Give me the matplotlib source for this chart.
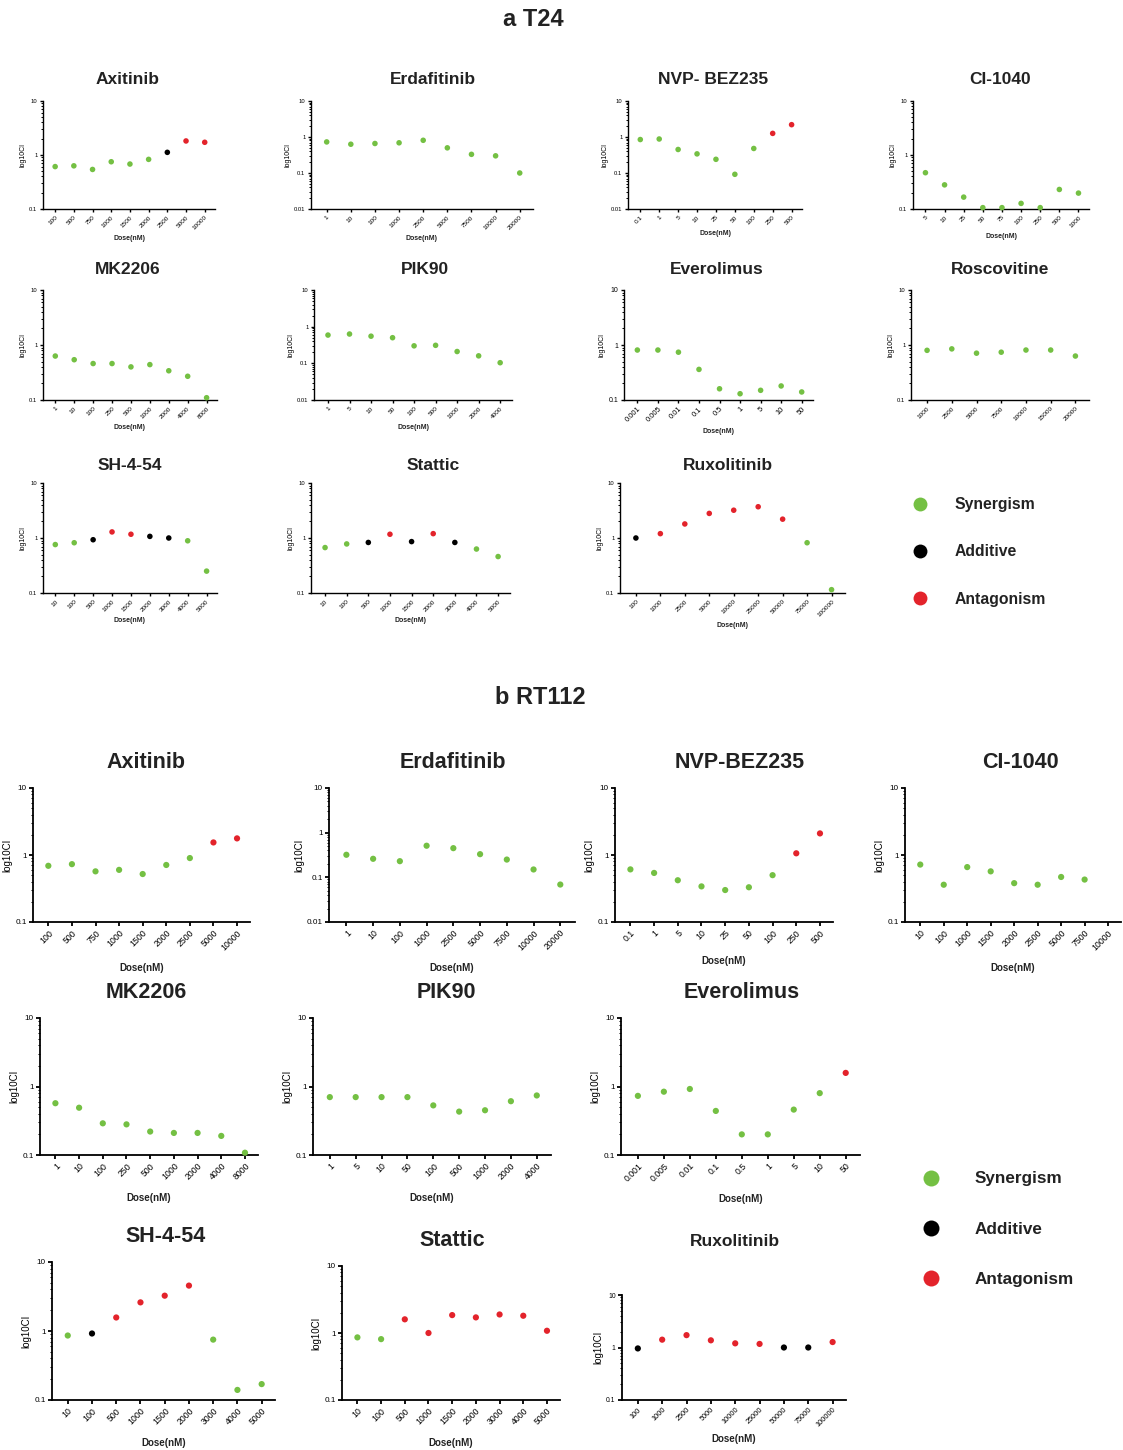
import numpy as np
import matplotlib
matplotlib.use('Agg')
import matplotlib.pyplot as plt
from matplotlib.ticker import FixedLocator, LogLocator, NullFormatter
from matplotlib.lines import Line2D

plt.rcParams['font.family'] = ['Liberation Sans', 'DejaVu Sans']

W, H = 1123, 1450
GREEN = '#74c043'
RED = '#e3232b'
BLACK = '#000000'
EFFECT_COLOR = {'S': GREEN, 'A': BLACK, 'N': RED}

# ---------------- T24 ----------------
t24_axitinib_dose = ['100', '500', '750', '1000', '1500', '2000', '2500', '5000', '10000']
t24_axitinib_ci = [0.61, 0.63, 0.54, 0.75, 0.68, 0.83, 1.12, 1.82, 1.72]
t24_axitinib_eff = 'SSSSSSANN'

t24_erdafitinib_dose = ['1', '10', '100', '1000', '2500', '5000', '7500', '10000', '20000']
t24_erdafitinib_ci = [0.73, 0.63, 0.66, 0.69, 0.81, 0.50, 0.33, 0.30, 0.10]
t24_erdafitinib_eff = 'SSSSSSSSS'

t24_bez235_dose = ['0.1', '1', '5', '10', '25', '50', '100', '250', '500']
t24_bez235_ci = [0.85, 0.88, 0.45, 0.34, 0.24, 0.092, 0.48, 1.26, 2.2]
t24_bez235_eff = 'SSSSSSSNN'

t24_ci1040_dose = ['5', '10', '25', '50', '75', '100', '250', '500', '1000']
t24_ci1040_ci = [0.47, 0.28, 0.166, 0.106, 0.106, 0.127, 0.106, 0.23, 0.197]
t24_ci1040_eff = 'SSSSSSSSS'

t24_mk2206_dose = ['1', '10', '100', '250', '500', '1000', '2000', '4000', '8000']
t24_mk2206_ci = [0.63, 0.54, 0.46, 0.46, 0.40, 0.44, 0.34, 0.27, 0.11]
t24_mk2206_eff = 'SSSSSSSSS'

t24_pik90_dose = ['1', '5', '10', '50', '100', '500', '1000', '2000', '4000']
t24_pik90_ci = [0.59, 0.63, 0.55, 0.50, 0.30, 0.31, 0.21, 0.16, 0.104]
t24_pik90_eff = 'SSSSSSSSS'

t24_everolimus_dose = ['0.001', '0.005', '0.01', '0.1', '0.5', '1', '5', '10', '50']
t24_everolimus_ci = [0.81, 0.81, 0.74, 0.36, 0.16, 0.13, 0.15, 0.18, 0.14]
t24_everolimus_eff = 'SSSSSSSSS'

t24_roscovitine_dose = ['1000', '2500', '5000', '7500', '10000', '15000', '20000']
t24_roscovitine_ci = [0.80, 0.85, 0.71, 0.74, 0.81, 0.81, 0.63]
t24_roscovitine_eff = 'SSSSSSS'

t24_sh454_dose = ['10', '100', '500', '1000', '1500', '2000', '3000', '4000', '5000']
t24_sh454_ci = [0.76, 0.82, 0.93, 1.29, 1.17, 1.07, 1.0, 0.89, 0.25]
t24_sh454_eff = 'SSANNAASS'

t24_stattic_dose = ['10', '100', '500', '1000', '1500', '2000', '3000', '4000', '5000']
t24_stattic_ci = [0.67, 0.78, 0.83, 1.17, 0.86, 1.2, 0.83, 0.63, 0.46]
t24_stattic_eff = 'SSANANASS'

t24_ruxolitinib_dose = ['100', '1000', '2500', '5000', '10000', '25000', '50000', '75000', '100000']
t24_ruxolitinib_ci = [1.0, 1.2, 1.8, 2.8, 3.2, 3.7, 2.2, 0.82, 0.115]
t24_ruxolitinib_eff = 'ANNNNNNSS'

# ---------------- RT112 ----------------
rt112_axitinib_dose = ['100', '500', '750', '1000', '1500', '2000', '2500', '5000', '10000']
rt112_axitinib_ci = [0.69, 0.73, 0.57, 0.60, 0.52, 0.71, 0.90, 1.54, 1.77]
rt112_axitinib_eff = 'SSSSSSSNN'

rt112_erdafitinib_dose = ['1', '10', '100', '1000', '2500', '5000', '7500', '10000', '20000']
rt112_erdafitinib_ci = [0.32, 0.26, 0.23, 0.51, 0.45, 0.33, 0.25, 0.15, 0.069]
rt112_erdafitinib_eff = 'SSSSSSSSS'

rt112_bez235_dose = ['0.1', '1', '5', '10', '25', '50', '100', '250', '500']
rt112_bez235_ci = [0.61, 0.54, 0.42, 0.34, 0.30, 0.33, 0.50, 1.06, 2.1]
rt112_bez235_eff = 'SSSSSSSNN'

rt112_ci1040_dose = ['10', '100', '1000', '1500', '2000', '2500', '5000', '7500', '10000']
rt112_ci1040_ci = [0.72, 0.36, 0.66, 0.57, 0.38, 0.36, 0.47, 0.43]
rt112_ci1040_eff = 'SSSSSSSS'

rt112_mk2206_dose = ['1', '10', '100', '250', '500', '1000', '2000', '4000', '8000']
rt112_mk2206_ci = [0.57, 0.49, 0.29, 0.28, 0.22, 0.21, 0.21, 0.19, 0.108]
rt112_mk2206_eff = 'SSSSSSSSS'

rt112_pik90_dose = ['1', '5', '10', '50', '100', '500', '1000', '2000', '4000']
rt112_pik90_ci = [0.70, 0.70, 0.70, 0.70, 0.53, 0.43, 0.45, 0.61, 0.74]
rt112_pik90_eff = 'SSSSSSSSS'

rt112_everolimus_dose = ['0.001', '0.005', '0.01', '0.1', '0.5', '1', '5', '10', '50']
rt112_everolimus_ci = [0.73, 0.84, 0.92, 0.44, 0.20, 0.20, 0.46, 0.80, 1.58]
rt112_everolimus_eff = 'SSSSSSSSN'

rt112_sh454_dose = ['10', '100', '500', '1000', '1500', '2000', '3000', '4000', '5000']
rt112_sh454_ci = [0.86, 0.92, 1.57, 2.6, 3.25, 4.55, 0.75, 0.14, 0.17]
rt112_sh454_eff = 'SANNNNSSS'

rt112_stattic_dose = ['10', '100', '500', '1000', '1500', '2000', '3000', '4000', '5000']
rt112_stattic_ci = [0.86, 0.81, 1.6, 1.0, 1.85, 1.71, 1.89, 1.81, 1.08]
rt112_stattic_eff = 'SSNNNNNNN'

rt112_ruxolitinib_dose = ['100', '1000', '2500', '5000', '10000', '25000', '50000', '75000', '100000']
rt112_ruxolitinib_ci = [0.96, 1.41, 1.72, 1.37, 1.2, 1.17, 1.0, 1.0, 1.27]
rt112_ruxolitinib_eff = 'ANNNNNAAN'

effect_names = ['Synergism', 'Additive', 'Antagonism']

# name, doses, ci, effects, lowest decade, show dose label
t24_panels = [
    ('Axitinib', t24_axitinib_dose, t24_axitinib_ci, t24_axitinib_eff, 0.1, True),
    ('Erdafitinib', t24_erdafitinib_dose, t24_erdafitinib_ci, t24_erdafitinib_eff, 0.01, True),
    ('NVP- BEZ235', t24_bez235_dose, t24_bez235_ci, t24_bez235_eff, 0.01, True),
    ('CI-1040', t24_ci1040_dose, t24_ci1040_ci, t24_ci1040_eff, 0.1, True),
    ('MK2206', t24_mk2206_dose, t24_mk2206_ci, t24_mk2206_eff, 0.1, True),
    ('PIK90', t24_pik90_dose, t24_pik90_ci, t24_pik90_eff, 0.01, True),
    ('Everolimus', t24_everolimus_dose, t24_everolimus_ci, t24_everolimus_eff, 0.1, True),
    ('Roscovitine', t24_roscovitine_dose, t24_roscovitine_ci, t24_roscovitine_eff, 0.1, False),
    ('SH-4-54', t24_sh454_dose, t24_sh454_ci, t24_sh454_eff, 0.1, True),
    ('Stattic', t24_stattic_dose, t24_stattic_ci, t24_stattic_eff, 0.1, True),
    ('Ruxolitinib', t24_ruxolitinib_dose, t24_ruxolitinib_ci, t24_ruxolitinib_eff, 0.1, True),
]
rt112_panels = [
    ('Axitinib', rt112_axitinib_dose, rt112_axitinib_ci, rt112_axitinib_eff, 0.1, True),
    ('Erdafitinib', rt112_erdafitinib_dose, rt112_erdafitinib_ci, rt112_erdafitinib_eff, 0.01, True),
    ('NVP-BEZ235', rt112_bez235_dose, rt112_bez235_ci, rt112_bez235_eff, 0.1, True),
    ('CI-1040', rt112_ci1040_dose, rt112_ci1040_ci, rt112_ci1040_eff, 0.1, True),
    ('MK2206', rt112_mk2206_dose, rt112_mk2206_ci, rt112_mk2206_eff, 0.1, True),
    ('PIK90', rt112_pik90_dose, rt112_pik90_ci, rt112_pik90_eff, 0.1, True),
    ('Everolimus', rt112_everolimus_dose, rt112_everolimus_ci, rt112_everolimus_eff, 0.1, True),
    ('SH-4-54', rt112_sh454_dose, rt112_sh454_ci, rt112_sh454_eff, 0.1, True),
    ('Stattic', rt112_stattic_dose, rt112_stattic_ci, rt112_stattic_eff, 0.1, True),
    ('Ruxolitinib', rt112_ruxolitinib_dose, rt112_ruxolitinib_ci, rt112_ruxolitinib_eff, 0.1, True),
]

# axes boxes in pixels: left, right, top, bottom, title x, title y, title size, tick font
t24_boxes = [
    (43, 215, 101, 209, 128, 80, 12.5, 4.6), (311, 533, 101, 209, 433, 80, 12.5, 4.6),
    (628, 802, 101, 209, 713, 80, 12.5, 4.6), (913, 1089, 101, 209, 1000, 80, 12.5, 4.6),
    (43, 217, 290, 400, 128, 270, 12.5, 4.6), (314, 512, 290, 400, 425, 270, 12.5, 4.6),
    (624, 813, 290, 400, 717, 269, 12.5, 5.4), (911, 1089, 290, 400, 1000, 270, 12.5, 4.6),
    (43, 217, 483, 593, 130, 466, 12.5, 4.6), (311, 510, 483, 593, 433, 466, 12.5, 4.6),
    (620, 845, 483, 593, 728, 465, 12.5, 4.6),
]
rt112_boxes = [
    (33, 250, 788, 922, 146, 762, 15.5, 6.3), (329, 575, 788, 922, 453, 762, 15.5, 6.3),
    (615, 833, 788, 922, 740, 762, 15.5, 6.3), (905, 1121, 788, 922, 1020, 762, 15.5, 6.3),
    (40, 258, 1018, 1155, 146, 993, 15.5, 6.3), (313, 551, 1018, 1155, 446, 993, 15.5, 6.3),
    (621, 860, 1018, 1155, 742, 993, 15.5, 6.3),
    (52, 275, 1262, 1400, 166, 1237, 15.5, 6.3), (342, 560, 1266, 1400, 452, 1240, 15.5, 6.3),
    (622, 846, 1295, 1400, 735, 1242, 12.5, 5.3),
]


def decade_label(v):
    return '{:g}'.format(v)


def draw_panel(fig, box, panel, big):
    left, right, top, bottom, tx, ty, tsize, fs = box
    name, doses, ci, eff, ylo, dose_label = panel
    ax = fig.add_axes([left / W, 1 - bottom / H, (right - left) / W, (bottom - top) / H])
    x = np.arange(len(ci))
    ax.scatter(x, ci, s=20 if big else 16, c=[EFFECT_COLOR[e] for e in eff],
               edgecolors='none', zorder=3, clip_on=False)
    ax.set_yscale('log')
    ax.set_ylim(ylo, 10)
    ax.set_xlim(-0.65, len(doses) - 0.45)

    decades = [10.0 ** k for k in range(int(round(np.log10(ylo))), 2)]
    ax.yaxis.set_major_locator(FixedLocator(decades))
    ax.set_yticklabels([decade_label(v) for v in decades])
    ax.yaxis.set_minor_locator(LogLocator(base=10, subs=np.arange(2, 10)))
    ax.yaxis.set_minor_formatter(NullFormatter())

    ax.set_xticks(np.arange(len(doses)))
    ax.set_xticklabels(doses, rotation=45, ha='right', rotation_mode='anchor', fontsize=fs)
    ax.tick_params(axis='y', labelsize=fs - 0.4)

    lw = 1.3 if big else 1.0
    for side in ('top', 'right'):
        ax.spines[side].set_visible(False)
    for side in ('left', 'bottom'):
        ax.spines[side].set_linewidth(lw)
    ax.tick_params(which='major', length=3 if big else 2.5, width=lw, pad=1.5)
    ax.tick_params(which='minor', length=1.6 if big else 1.3, width=0.7)

    lab = 7 if big else 5
    ax.set_ylabel('log10CI', fontsize=lab, labelpad=2)
    if dose_label:
        ax.set_xlabel('Dose(nM)', fontsize=lab, fontweight='bold',
                      labelpad=(8 if fs > 6 else 4) if big else 3, color='#222222')

    fig.text(tx / W, 1 - ty / H, name, ha='center', va='center',
             fontsize=tsize, fontweight='bold', color='#222222')
    return ax


def draw_legend(fig, x_px, y_px, size, msize, spacing, pad):
    handles = [Line2D([], [], ls='none', marker='o', ms=msize, mec='none', mfc=EFFECT_COLOR[k])
               for k in 'SAN']
    leg = fig.legend(handles, effect_names, loc='center left',
                     bbox_to_anchor=(x_px / W, 1 - y_px / H), frameon=False,
                     borderpad=0, borderaxespad=0, handlelength=1.0, handletextpad=pad,
                     labelspacing=spacing, prop={'size': size, 'weight': 'bold'})
    for t in leg.get_texts():
        t.set_color('#222222')


fig = plt.figure(figsize=(W / 100, H / 100), dpi=100)

fig.text(533 / W, 1 - 20 / H, 'a T24', ha='center', va='center', fontsize=17,
         fontweight='bold', color='#222222')
fig.text(540 / W, 1 - 698 / H, 'b RT112', ha='center', va='center', fontsize=17,
         fontweight='bold', color='#222222')

for box, panel in zip(t24_boxes, t24_panels):
    draw_panel(fig, box, panel, big=False)
for box, panel in zip(rt112_boxes, rt112_panels):
    draw_panel(fig, box, panel, big=True)

draw_legend(fig, 912, 552, 11.3, 10, 2.05, 1.7)
draw_legend(fig, 922, 1229, 12.3, 11.5, 2.05, 2.1)

fig.savefig('out.png', dpi=100, facecolor='white')
